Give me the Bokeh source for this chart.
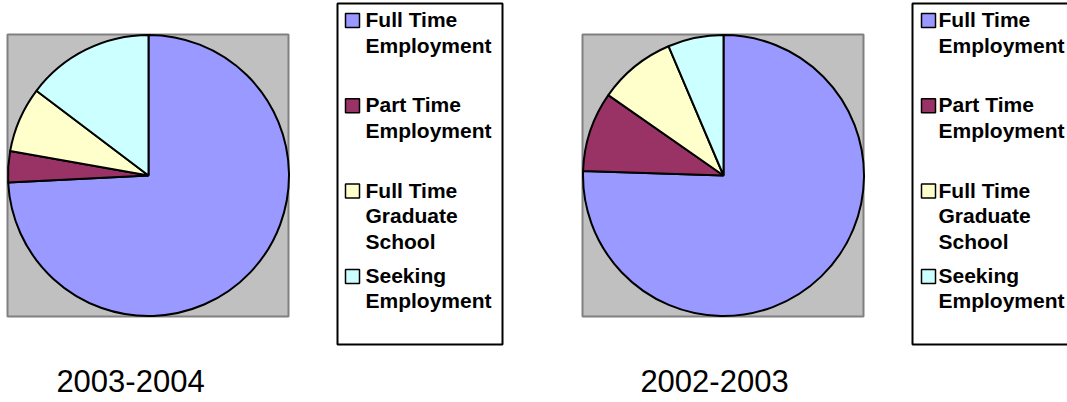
import math
from bokeh.plotting import figure
from bokeh.models import ColumnDataSource, Range1d
from bokeh.core.properties import value
from bokeh.embed import file_html
from bokeh.resources import INLINE

# ---------------- data ----------------
categories = ["Full Time Employment", "Part Time Employment",
              "Full Time Graduate School", "Seeking Employment"]
legend_lines = [["Full Time", "Employment"],
                ["Part Time", "Employment"],
                ["Full Time", "Graduate", "School"],
                ["Seeking", "Employment"]]
colors = ["#9999FF", "#993366", "#FFFFCC", "#CCFFFF"]

years = ["2003-2004", "2002-2003"]
values_2003_2004 = [74.2, 3.6, 7.5, 14.7]
values_2002_2003 = [75.5, 9.2, 8.9, 6.4]
series = [values_2003_2004, values_2002_2003]

# ---------------- layout (picture pixel coords) ----------------
W, H = 1067, 402
FONT = "Liberation Sans"
LEG_FS = 21
YEAR_FS = 31

def Y(py):
    return H - py

p = figure(width=W, height=H, output_backend="svg", toolbar_location=None,
           x_range=Range1d(0, W), y_range=Range1d(0, H),
           x_axis_type=None, y_axis_type=None, min_border=0)
p.grid.visible = False
p.outline_line_color = None
p.background_fill_color = "white"
p.border_fill_color = "white"

panels = [
    dict(sq=(7, 288, 34, 316), c=(148, 175), leg=(337, 502), sw=345, tx=365, lab=130),
    dict(sq=(582, 863, 34, 316), c=(723, 175), leg=(912, 1090), sw=921, tx=938, lab=714),
]

for panel, vals, yr in zip(panels, series, years):
    x0, x1, y0, y1 = panel["sq"]
    p.quad(left=x0, right=x1, top=Y(y0), bottom=Y(y1),
           fill_color="#C0C0C0", line_color="#808080", line_width=2)

    total = sum(vals)
    starts, ends = [], []
    cum = 0.0
    for v in vals:
        starts.append(math.pi / 2 - 2 * math.pi * cum / total)
        cum += v
        ends.append(math.pi / 2 - 2 * math.pi * cum / total)
    cx, cy = panel["c"]
    src = ColumnDataSource(dict(start=starts, end=ends, color=colors,
                                cat=categories, val=vals))
    p.wedge(x=cx, y=Y(cy), radius=140.5, radius_units="screen",
            start_angle="start", end_angle="end", direction="clock",
            fill_color="color", line_color="black", line_width=2, source=src)

    # legend box
    lx0, lx1 = panel["leg"]
    p.quad(left=lx0, right=lx1, top=Y(3), bottom=Y(344),
           fill_color="white", line_color="black", line_width=2)
    for k, (lines, col) in enumerate(zip(legend_lines, colors)):
        base = 27 + k * 85.3
        sw = panel["sw"]
        p.quad(left=sw, right=sw + 14, top=Y(base - 14), bottom=Y(base),
               fill_color=col, line_color="black", line_width=1.5)
        xs = [panel["tx"]] * len(lines)
        ys = [Y(base - 0.38 * LEG_FS + i * 25.5) for i in range(len(lines))]
        p.text(x=xs, y=ys, text=lines, text_font=value(FONT),
               text_font_style="bold", text_font_size=f"{LEG_FS}px",
               text_baseline="alphabetic", text_align="left", text_color="black")

    p.text(x=[panel["lab"]], y=[Y(392 - 0.38 * YEAR_FS)], text=[yr],
           text_font=value(FONT), text_font_size=f"{YEAR_FS}px",
           text_baseline="alphabetic", text_align="center", text_color="black")

open("out.html", "w").write(file_html(p, INLINE))
